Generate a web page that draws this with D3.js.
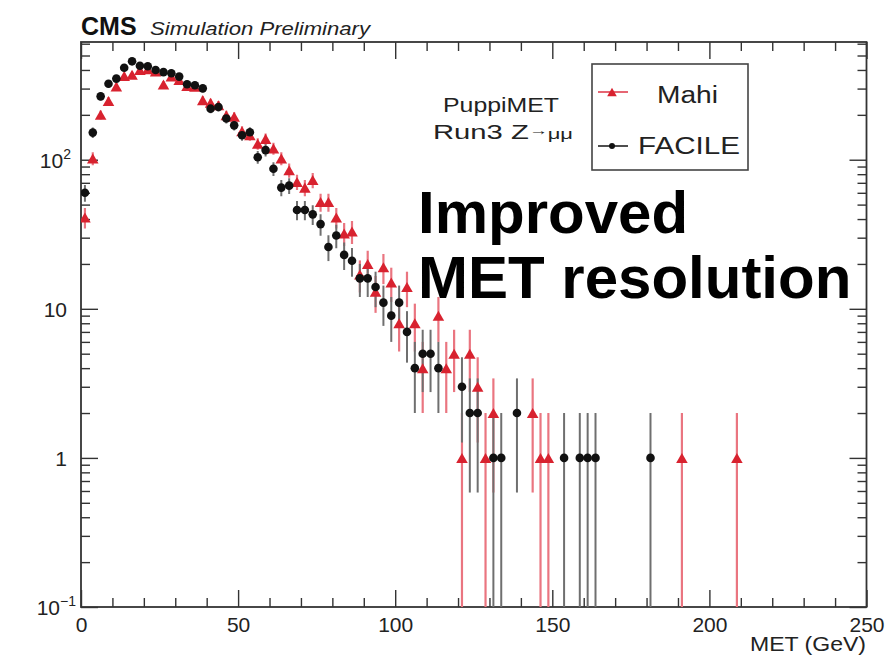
<!DOCTYPE html>
<html><head><meta charset="utf-8">
<script src="https://cdn.jsdelivr.net/npm/d3@7"></script>
<style>
html,body{margin:0;padding:0;background:#fff;}
svg{display:block;font-family:"Liberation Sans",Arial,Helvetica,sans-serif;}
</style></head><body>
<svg id="chart" width="891" height="657"></svg>
<script>
// ---- data (MET histogram, 2.5 GeV bins) ----
const metBinCenters = [1.25,3.75,6.25,8.75,11.25,13.75,16.25,18.75,21.25,23.75,
  26.25,28.75,31.25,33.75,36.25,38.75,41.25,43.75,46.25,48.75,
  51.25,53.75,56.25,58.75,61.25,63.75,66.25,68.75,71.25,73.75,
  76.25,78.75,81.25,83.75,86.25,88.75,91.25,93.75,96.25,98.75,
  101.25,103.75,106.25,108.75,111.25,113.75,116.25,118.75,121.25,123.75,
  126.25,128.75,131.25,133.75,136.25,138.75,141.25,143.75,146.25,148.75,
  151.25,153.75,156.25,158.75,161.25,163.75,166.25,168.75,171.25,173.75,
  176.25,178.75,181.25,183.75,186.25,188.75,191.25,193.75,196.25,198.75,
  201.25,203.75,206.25,208.75];
const mahiCounts = [41,102,200,248,310,365,371,400,405,390,
  320,361,342,312,309,251,241,232,199,194,
  155,146,128,138,119,102,85,71,65,73,
  52,52,41,32,33,17,20,13,19,15,
  8,14,8,4,0,9,4,5,1,5,
  3,1,2,0,0,0,0,2,1,1,
  0,0,0,0,0,0,0,0,0,0,
  0,0,0,0,0,0,1,0,0,0,
  0,0,0,1];
const facileCounts = [60,152,266,323,350,414,457,427,424,400,
  387,380,361,321,316,301,220,226,189,170,
  146,153,104,116,87,65,67,46,46,43,
  37,26,31,23,21,16,16,14,11,9,
  11,7,4,5,5,4,0,0,3,2,
  2,0,1,1,0,2,0,0,0,0,
  0,1,0,1,1,1,0,0,0,0,
  0,0,1,0,0,0,0,0,0,0,
  0,0,0,0];
const seriesNames = ["Mahi","FACILE"];
const xMajorTicks = [0,50,100,150,200,250];
const xMinorTicks = [10,20,30,40,60,70,80,90,110,120,130,140,160,170,180,190,210,220,230,240];
const yMajorTicks = [0.1,1,10,100];
const yMinorTicks = [0.2,0.3,0.4,0.5,0.6,0.7,0.8,0.9,2,3,4,5,6,7,8,9,20,30,40,50,60,70,80,90,200,300,400,500,600];
const yTickLabels = [{v:0.1,base:"10",exp:"\u22121"},{v:1,base:"1",exp:""},{v:10,base:"10",exp:""},{v:100,base:"10",exp:"2"}];

// ---- layout ----
const svg = d3.select("#chart");
const L = 81, R = 866.5, T = 42, B = 607;
const x = d3.scaleLinear().domain([0,250]).range([L,R]);
const y = d3.scaleLog().domain([0.1,616]).range([B,T]);
const axisColor = "#333";

svg.append("rect").attr("width",891).attr("height",657).attr("fill","#fff");

svg.append("defs").append("clipPath").attr("id","plotclip")
  .append("rect").attr("x",L).attr("y",T).attr("width",R-L).attr("height",B-T);

function styleAxis(g){
  g.select(".domain").remove();
  g.selectAll(".tick line").attr("stroke",axisColor).attr("stroke-width",1.4);
  g.selectAll(".tick text").attr("fill","#222").attr("font-size",21)
    .attr("font-family","'Liberation Sans',Arial,sans-serif");
}
// X axes
svg.append("g").attr("transform",`translate(0,${B})`)
  .call(d3.axisBottom(x).tickValues(xMajorTicks).tickSizeInner(-17).tickSizeOuter(0).tickPadding(10).tickFormat(d3.format("d")))
  .call(styleAxis);
svg.append("g").attr("transform",`translate(0,${B})`)
  .call(d3.axisBottom(x).tickValues(xMinorTicks).tickSizeInner(-9).tickSizeOuter(0).tickFormat(""))
  .call(styleAxis);
svg.append("g").attr("transform",`translate(0,${T})`)
  .call(d3.axisTop(x).tickValues(xMajorTicks).tickSizeInner(-17).tickSizeOuter(0).tickFormat(""))
  .call(styleAxis);
svg.append("g").attr("transform",`translate(0,${T})`)
  .call(d3.axisTop(x).tickValues(xMinorTicks).tickSizeInner(-9).tickSizeOuter(0).tickFormat(""))
  .call(styleAxis);
// Y axes
svg.append("g").attr("transform",`translate(${L},0)`)
  .call(d3.axisLeft(y).tickValues(yMajorTicks).tickSizeInner(-17).tickSizeOuter(0).tickFormat(""))
  .call(styleAxis);
svg.append("g").attr("transform",`translate(${L},0)`)
  .call(d3.axisLeft(y).tickValues(yMinorTicks).tickSizeInner(-9).tickSizeOuter(0).tickFormat(""))
  .call(styleAxis);
svg.append("g").attr("transform",`translate(${R},0)`)
  .call(d3.axisRight(y).tickValues(yMajorTicks).tickSizeInner(-17).tickSizeOuter(0).tickFormat(""))
  .call(styleAxis);
svg.append("g").attr("transform",`translate(${R},0)`)
  .call(d3.axisRight(y).tickValues(yMinorTicks).tickSizeInner(-9).tickSizeOuter(0).tickFormat(""))
  .call(styleAxis);

// y tick labels with superscripts
const ylab = svg.append("g").attr("font-size",21).attr("fill","#222");
yTickLabels.forEach(d=>{
  const t = ylab.append("text").attr("x", d.exp==="\u22121" ? 76 : (d.exp ? 71 : 67))
    .attr("y", y(d.v)+8).attr("text-anchor","end");
  t.append("tspan").text(d.base);
  if(d.exp) t.append("tspan").attr("font-size",14).attr("dy",-9).text(d.exp);
});

// frame
svg.append("rect").attr("x",L).attr("y",T).attr("width",R-L).attr("height",B-T)
  .attr("fill","none").attr("stroke",axisColor).attr("stroke-width",1.8);

// ---- data marks ----
const plot = svg.append("g").attr("clip-path","url(#plotclip)");
const triUp = {draw(ctx,size){const s=Math.sqrt(size*4/Math.sqrt(3)); const h=s*Math.sqrt(3)/2;
  ctx.moveTo(0,-h/2); ctx.lineTo(s/2,h/2); ctx.lineTo(-s/2,h/2); ctx.closePath();}};

function pts(counts){
  return metBinCenters.map((m,i)=>({m, n:counts[i]})).filter(d=>d.n>0);
}
const mahi = pts(mahiCounts), facile = pts(facileCounts);

function errBars(data, color, w){
  plot.append("g").selectAll("line").data(data).join("line")
    .attr("x1",d=>x(d.m)).attr("x2",d=>x(d.m))
    .attr("y1",d=>y(d.n+Math.sqrt(d.n)))
    .attr("y2",d=>{const lo=d.n-Math.sqrt(d.n); return lo>0.1 ? y(lo) : B+2;})
    .attr("stroke",color).attr("stroke-width",w);
}
errBars(mahi,"#ea7580",2.2);
errBars(facile,"#6f6f6f",2.0);

plot.append("g").selectAll("path").data(mahi).join("path")
  .attr("transform",d=>`translate(${x(d.m)},${y(d.n)})`)
  .attr("d",d3.symbol(triUp,58)).attr("fill","#d8222f");
plot.append("g").selectAll("circle").data(facile).join("circle")
  .attr("cx",d=>x(d.m)).attr("cy",d=>y(d.n)).attr("r",4.3).attr("fill","#111");

// ---- texts ----
svg.append("text").attr("x",L-0).attr("y",35).attr("font-size",25).attr("font-weight","bold")
  .attr("fill","#111").text("CMS");
svg.append("text").attr("x",150).attr("y",35).attr("font-size",19).attr("font-style","italic")
  .attr("fill","#222").attr("textLength",220).attr("lengthAdjust","spacingAndGlyphs").text("Simulation Preliminary");
svg.append("text").attr("x",866).attr("y",651).attr("text-anchor","end").attr("font-size",20)
  .attr("fill","#222").attr("textLength",116).attr("lengthAdjust","spacingAndGlyphs").text("MET (GeV)");

svg.append("text").attr("x",443).attr("y",112).attr("font-size",20).attr("fill","#222")
  .attr("textLength",116).attr("lengthAdjust","spacingAndGlyphs").text("PuppiMET");
const rt = svg.append("text").attr("x",433).attr("y",139).attr("font-size",20).attr("fill","#222")
  .attr("textLength",140).attr("lengthAdjust","spacingAndGlyphs");
rt.append("tspan").text("Run3 Z");
rt.append("tspan").attr("font-size",13).attr("dy",-4).text("\u2192");
rt.append("tspan").attr("font-size",15).attr("dy",4).text("\u03bc\u03bc");

// legend
const lg = svg.append("g");
lg.append("rect").attr("x",592).attr("y",64).attr("width",156).attr("height",106)
  .attr("fill","#fff").attr("stroke","#444").attr("stroke-width",1.6);
const legendRows = [{name:seriesNames[0], yy:92, color:"#d8222f", line:"#e04050"},
                    {name:seriesNames[1], yy:146, color:"#111", line:"#222"}];
legendRows.forEach((r,i)=>{
  lg.append("line").attr("x1",598).attr("x2",628).attr("y1",r.yy).attr("y2",r.yy)
    .attr("stroke",r.line).attr("stroke-width",1.6);
  if(i===0) lg.append("path").attr("transform",`translate(612,${r.yy})`).attr("d",d3.symbol(triUp,40)).attr("fill",r.color);
  else lg.append("circle").attr("cx",612).attr("cy",r.yy).attr("r",3).attr("fill",r.color);
  lg.append("text").attr("x",i===0?657:638).attr("y",r.yy+(i===0?11:8)).attr("font-size",23).attr("fill","#222")
    .attr("textLength",i===0?61:102).attr("lengthAdjust","spacingAndGlyphs").text(r.name);
});

// annotation
const ann = svg.append("g").attr("font-size",60).attr("font-weight","bold").attr("fill","#000");
ann.append("text").attr("x",418).attr("y",233).text("Improved");
ann.append("text").attr("x",418).attr("y",298).text("MET resolution");
</script>
</body></html>
